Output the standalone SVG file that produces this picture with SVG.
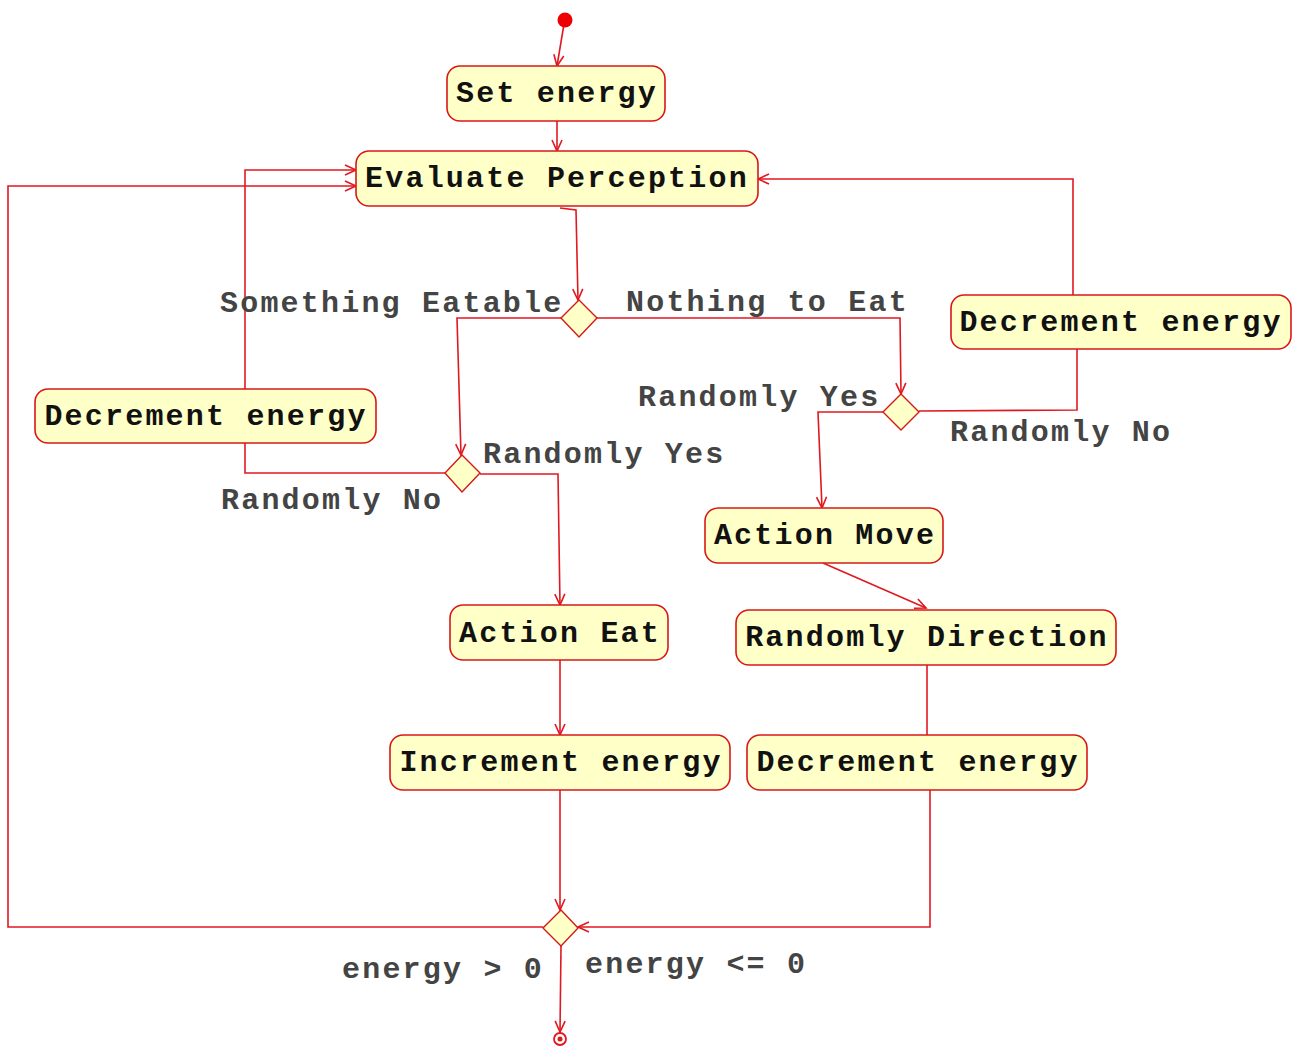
<svg xmlns="http://www.w3.org/2000/svg" width="1293" height="1046" viewBox="0 0 1293 1046">
  <defs>
    <style>
      .node rect { fill: #ffffc8; stroke: #d81818; stroke-width: 1.6; }
      .node text { font-family: "Liberation Mono", "Courier New", monospace; font-weight: bold; font-size: 30px; letter-spacing: 2.2px; fill: #111; text-anchor: middle; }
      .decision polygon { fill: #ffffc8; stroke: #d81818; stroke-width: 1.4; }
      .label { font-family: "Liberation Mono", "Courier New", monospace; font-weight: bold; font-size: 30px; letter-spacing: 2.2px; fill: #444; }
      .edges path { fill: none; stroke: #e01820; stroke-width: 1.6; }
      .edges path.arrow { marker-end: url(#arrow); }
    </style>
    <marker id="arrow" markerUnits="userSpaceOnUse" markerWidth="14" markerHeight="12" refX="12" refY="6" orient="auto">
      <path d="M1,1 L12,6 L1,11" fill="none" stroke="#e01820" stroke-width="1.6"/>
    </marker>
  </defs>

  <rect width="1293" height="1046" fill="#ffffff"/>

  <!-- connectors -->
  <g class="edges">
    <path class="arrow" d="M564,24 L557,66"/>
    <path class="arrow" d="M557,121 L557,151"/>
    <!-- Evaluate Perception to first decision -->
    <path class="arrow" d="M560,208 L576,210 L578,300"/>
    <!-- something eatable -->
    <path class="arrow" d="M561,318 L457,318 L461,455"/>
    <!-- randomly no (eat branch) -->
    <path d="M445,473 L245,473 L245,443"/>
    <path class="arrow" d="M245,389 L245,170 L356,170"/>
    <!-- randomly yes (eat branch) -->
    <path class="arrow" d="M480,474 L558,474 L560,605"/>
    <path class="arrow" d="M560,660 L560,735"/>
    <path class="arrow" d="M560,790 L560,910"/>
    <!-- energy > 0 loops back -->
    <path class="arrow" d="M543,927 L8,927 L8,186 L356,186"/>
    <!-- energy <= 0 to final -->
    <path class="arrow" d="M561,946 L560,1032"/>
    <!-- nothing to eat -->
    <path class="arrow" d="M597,318 L900,318 L901,394"/>
    <!-- randomly no (move branch) -->
    <path d="M919,411 L1077,410 L1077,349"/>
    <path class="arrow" d="M1073,295 L1073,179 L758,179"/>
    <!-- randomly yes (move branch) -->
    <path class="arrow" d="M883,412 L818,412 L822,508"/>
    <path class="arrow" d="M823,563 L926,608"/>
    <path d="M927,665 L927,735"/>
    <path class="arrow" d="M930,790 L930,927 L578,927"/>
  </g>

  <!-- initial and final states -->
  <g id="start">
    <circle cx="565" cy="20" r="7.5" fill="#ee0000"/>
  </g>
  <g id="end">
    <circle cx="560" cy="1039" r="6" fill="#fff" stroke="#e01820" stroke-width="1.8"/>
    <circle cx="560" cy="1039" r="2.5" fill="#e01820"/>
  </g>

  <!-- activities -->
  <g id="set-energy" class="node">
    <rect x="447" y="66" width="218" height="55" rx="13"/>
    <text x="557" y="102">Set energy</text>
  </g>
  <g id="evaluate-perception" class="node">
    <rect x="356" y="151" width="402" height="55" rx="13"/>
    <text x="557" y="187">Evaluate Perception</text>
  </g>
  <g id="decrement-energy-right" class="node">
    <rect x="951" y="295" width="340" height="54" rx="13"/>
    <text x="1121" y="331">Decrement energy</text>
  </g>
  <g id="decrement-energy-left" class="node">
    <rect x="35" y="389" width="341" height="54" rx="13"/>
    <text x="206" y="425">Decrement energy</text>
  </g>
  <g id="action-move" class="node">
    <rect x="705" y="508" width="238" height="55" rx="13"/>
    <text x="825" y="544">Action Move</text>
  </g>
  <g id="action-eat" class="node">
    <rect x="450" y="605" width="218" height="55" rx="13"/>
    <text x="560" y="642">Action Eat</text>
  </g>
  <g id="randomly-direction" class="node">
    <rect x="736" y="610" width="380" height="55" rx="13"/>
    <text x="927" y="646">Randomly Direction</text>
  </g>
  <g id="increment-energy" class="node">
    <rect x="390" y="735" width="340" height="55" rx="13"/>
    <text x="561" y="771">Increment energy</text>
  </g>
  <g id="decrement-energy-bottom" class="node">
    <rect x="747" y="735" width="340" height="55" rx="13"/>
    <text x="918" y="771">Decrement energy</text>
  </g>

  <!-- decisions -->
  <g id="decision-food" class="decision">
    <polygon points="579,300 597,318 579,337 561,318"/>
  </g>
  <g id="decision-eat" class="decision">
    <polygon points="462,455 480,473 462,492 445,473"/>
  </g>
  <g id="decision-move" class="decision">
    <polygon points="901,394 919,412 901,430 883,412"/>
  </g>
  <g id="decision-energy" class="decision">
    <polygon points="561,910 578,928 561,946 543,928"/>
  </g>

  <!-- guard labels -->
  <g id="labels">
    <text class="label" x="220" y="312">Something Eatable</text>
    <text class="label" x="626" y="311">Nothing to Eat</text>
    <text class="label" x="638" y="406">Randomly Yes</text>
    <text class="label" x="950" y="441">Randomly No</text>
    <text class="label" x="483" y="463">Randomly Yes</text>
    <text class="label" x="221" y="509">Randomly No</text>
    <text class="label" x="342" y="978">energy &gt; 0</text>
    <text class="label" x="585" y="973">energy &lt;= 0</text>
  </g>
</svg>
